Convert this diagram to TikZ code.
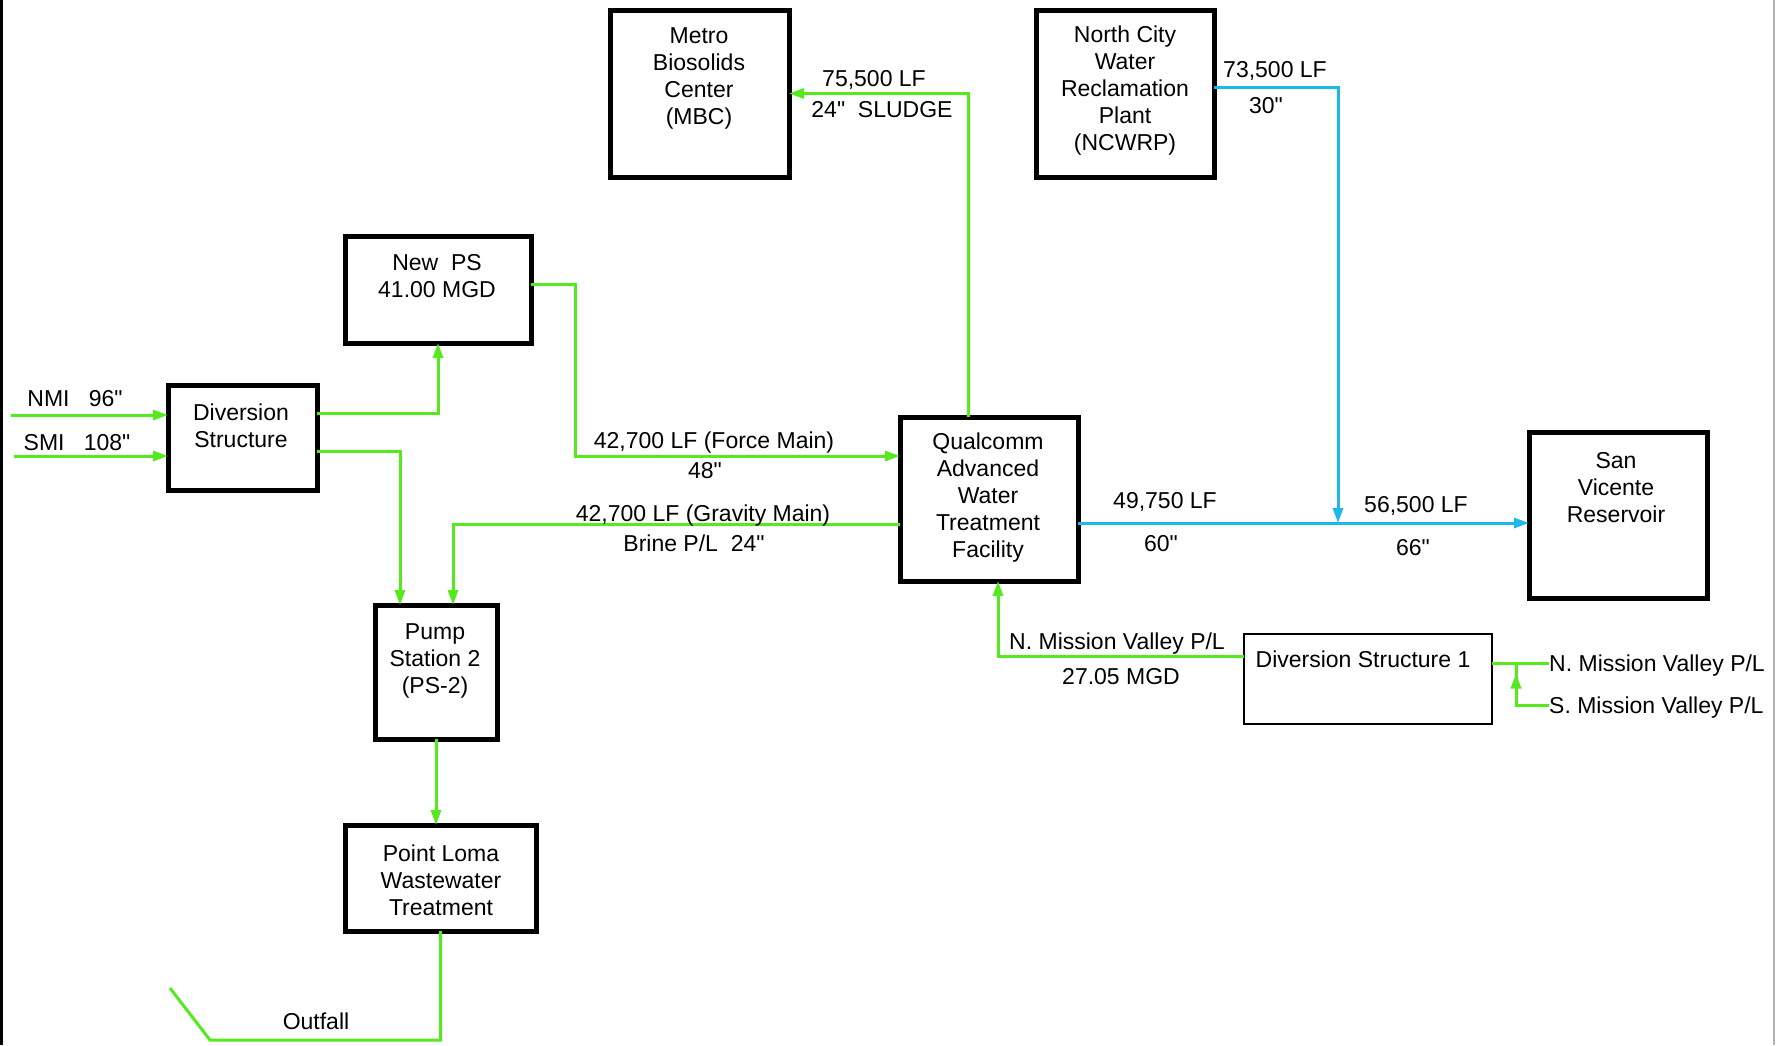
\documentclass[tikz,border=0pt]{standalone}
\usepackage{fontspec}
\setmainfont{Liberation Sans}[Ligatures=TeXOff]
\usetikzlibrary{arrows.meta,decorations.markings}
\definecolor{pipegreen}{RGB}{84,234,30}
\definecolor{pipeblue}{RGB}{27,184,236}

\begin{document}
\begin{tikzpicture}[x=1pt,y=-1pt,
  font=\fontsize{23}{27}\selectfont,
  >={Triangle[length=15pt,width=10pt]},
  unit/.style={draw, line width=5pt, inner sep=0pt, outer sep=0pt},
  thinunit/.style={draw, line width=1.5pt, inner sep=0pt, outer sep=0pt},
  txt/.style={inner sep=0pt, align=center},
  lbl/.style={inner sep=0pt, text height=17pt, text depth=5pt},
  pipe/.style={draw=pipegreen, line width=3pt},
  recl/.style={draw=pipeblue, line width=3pt},
  midtip/.style={postaction={decorate}, decoration={markings, mark=at position 0.86 with {\arrow[pipegreen]{>}}}}]
\useasboundingbox (0,0) rectangle (1776,1045);
\draw[line width=3pt] (1.5,0) -- (1.5,1045);
\draw[gray!60, line width=2pt] (1774,0) -- (1774,1045);

\node[unit, minimum width=179pt, minimum height=167pt] (mbc) at (699.5,93.5) {};
\node[txt] (mbc-t) at (699,78) {Metro\\Biosolids\\Center\\(MBC)};
\node[unit, minimum width=178pt, minimum height=167pt] (ncwrp) at (1125,93.5) {};
\node[txt] (ncwrp-t) at (1125,91) {North City\\Water\\Reclamation\\Plant\\(NCWRP)};
\node[unit, minimum width=186pt, minimum height=107pt] (newps) at (438,289.5) {};
\node[txt] (newps-t) at (437,276) {New~~PS\\41.00 MGD};
\node[unit, minimum width=149pt, minimum height=105pt] (ds) at (242.5,437.5) {};
\node[txt] (ds-t) at (241,426) {Diversion\\Structure};
\node[unit, minimum width=178pt, minimum height=164pt] (awtf) at (989,499) {};
\node[txt] (awtf-t) at (988,498) {Qualcomm\\Advanced\\Water\\Treatment\\Facility};
\node[unit, minimum width=178pt, minimum height=166pt] (svr) at (1618,515) {};
\node[txt] (svr-t) at (1616,488) {San\\Vicente\\Reservoir};
\node[unit, minimum width=122pt, minimum height=134pt] (ps2) at (436,672) {};
\node[txt] (ps2-t) at (435,661) {Pump\\Station 2\\(PS-2)};
\node[unit, minimum width=191pt, minimum height=106pt] (plwt) at (440.5,878) {};
\node[txt] (plwt-t) at (441,880) {Point Loma\\Wastewater\\Treatment};
\node[thinunit, minimum width=248pt, minimum height=90pt] (ds1) at (1368,679) {};
\node[lbl] (ds1-t) at (1363,661) {Diversion Structure 1};

\coordinate (nmi) at (11,415);
\coordinate (smi) at (14,456);
\coordinate (jn) at (1338,523);
\coordinate (mvj) at (1516,663);
\coordinate (ofb) at (210,1040);
\coordinate (of) at (170,988);

\draw[pipe,->] (nmi) -- (ds.west |- nmi);
\draw[pipe,->] (smi) -- (ds.west |- smi);
\draw[pipe,->] ([yshift=-28pt]ds.north east) -| (newps.south);
\draw[pipe,->] ([yshift=-66pt]ds.north east) -| ([xshift=-36pt]ps2.north);
\draw[pipe,->] ([yshift=5pt]newps.east) -- ++(44,0) |- ([yshift=-39pt]awtf.north west);
\draw[pipe,->] ([yshift=-25pt]awtf.west) -| ([xshift=17pt]ps2.north);
\draw[pipe,->] ([xshift=-21pt]awtf.north) |- (mbc.east);
\draw[recl,->] ([yshift=-24pt]awtf.east) -- ([yshift=-8pt]svr.west);
\draw[recl,->] ([yshift=6pt]ncwrp.east) -| (jn);
\draw[pipe,->] ([yshift=23pt]ds1.west) -| ([xshift=9pt]awtf.south);
\node[lbl, anchor=west] (nmv) at (1549,665) {N. Mission Valley P/L};
\node[lbl, anchor=west] (smv) at (1549,707) {S. Mission Valley P/L};
\draw[pipe] (nmv.west |- mvj) -- (ds1.east |- mvj);
\draw[pipe, midtip] (smv.west |- 0,705) -| (mvj);
\draw[pipe,->] (ps2.south) -- (plwt.north -| ps2.south);
\draw[pipe] (plwt.south) |- (ofb) -- (of);

\node[lbl] (nmi-t) at (75,400) {NMI~~~96"};
\node[lbl] (smi-t) at (77,444) {SMI~~~108"};
\node[lbl] (fm-t) at (714,442) {42,700 LF (Force Main)};
\node[lbl] (fm-d) at (705,472) {48"};
\node[lbl] (gm-t) at (703,515) {42,700 LF (Gravity Main)};
\node[lbl] (gm-d) at (694,545) {Brine P/L~~24"};
\node[lbl] (sl-t) at (874,80) {75,500 LF};
\node[lbl] (sl-d) at (882,111) {24"~~SLUDGE};
\node[lbl] (nc-t) at (1275,71) {73,500 LF};
\node[lbl] (nc-d) at (1266,107) {30"};
\node[lbl] (aw-t) at (1165,502) {49,750 LF};
\node[lbl] (aw-d) at (1161,545) {60"};
\node[lbl] (sv-t) at (1416,506) {56,500 LF};
\node[lbl] (sv-d) at (1413,549) {66"};
\node[lbl] (mv-t) at (1117,643) {N. Mission Valley P/L};
\node[lbl] (mv-d) at (1121,678) {27.05 MGD};
\node[lbl] (of-t) at (316,1023) {Outfall};
\end{tikzpicture}
\end{document}
